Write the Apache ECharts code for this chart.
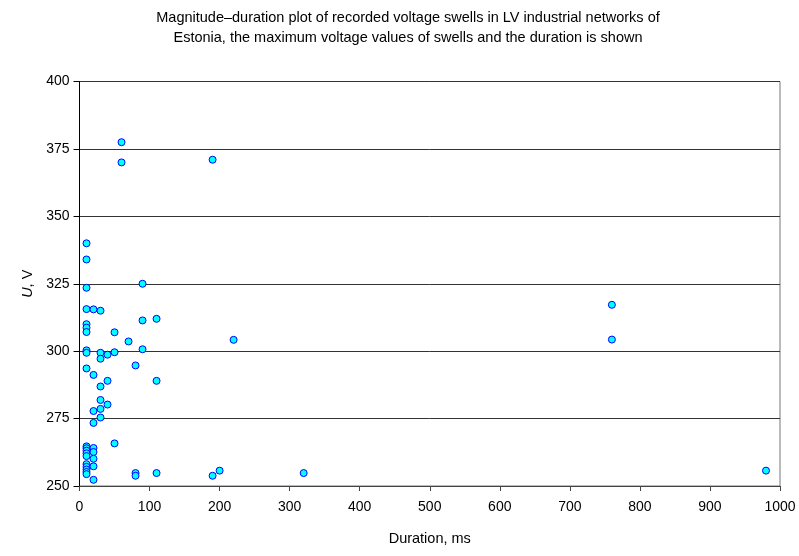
<!DOCTYPE html>
<html>
<head>
<meta charset="utf-8">
<script src="https://cdn.jsdelivr.net/npm/echarts@6/dist/echarts.min.js"></script>
<style>
  html, body { margin: 0; padding: 0; background: #fff; }
  #chart { width: 799px; height: 556px; }
</style>
</head>
<body>
<div id="chart"></div>
<script>
// swell duration (ms) and max voltage (V)
const durations = [
  10, 10, 10, 10, 10, 10, 10, 10, 10, 10, 10, 10, 10, 10, 10, 10, 10, 10, 10, 10,
  20, 20, 20, 20, 20, 20, 20, 20, 20,
  30, 30, 30, 30, 30, 30, 30,
  40, 40, 40,
  50, 50, 50,
  60, 60,
  70,
  80, 80, 80,
  90, 90, 90,
  110, 110, 110,
  190, 190,
  200,
  220,
  320,
  760, 760,
  980
]
const voltages = [
  340, 334, 323.5, 315.6, 310, 308.7, 307.1, 300.3, 299.4, 293.6, 264.7, 264, 263.1, 262.1, 261.1, 258.1, 257.1, 256.1, 255.2, 254.4,
  315.5, 291.2, 277.8, 273.4, 264.1, 262.6, 260.1, 257.3, 252.3,
  315, 299.4, 297.2, 286.9, 281.9, 278.6, 275.4,
  298.7, 289, 280.2,
  307, 299.6, 265.8,
  377.5, 370,
  303.6,
  294.7, 254.8, 253.8,
  325, 311.4, 300.7,
  312, 289, 254.8,
  371, 253.8,
  255.7,
  304.2,
  254.8,
  317.2, 304.3,
  255.7
]

const titleText = 'Magnitude\u2013duration plot of recorded voltage swells in LV industrial networks of\nEstonia, the maximum voltage values of swells and the duration is shown'

const chart = echarts.init(document.getElementById('chart'))
const font = 'Liberation Sans, Arial, sans-serif'

chart.setOption({
  animation: false,
  title: {
    text: titleText,
    left: 408,
    textAlign: 'center',
    top: 8,
    padding: 0,
    textStyle: { fontFamily: font, fontSize: 14.5, fontWeight: 'normal', color: '#000', lineHeight: 20 },
  },
  grid: { left: 79.5, right: 19, top: 81.5, bottom: 70, show: true, borderColor: '#777', borderWidth: 1 },
  xAxis: {
    type: 'value',
    min: 0,
    max: 1000,
    interval: 100,
    name: 'Duration, ms',
    nameLocation: 'middle',
    nameGap: 45,
    nameTextStyle: { fontFamily: font, fontSize: 14.5, color: '#000' },
    axisLine: { lineStyle: { color: '#444' } },
    axisTick: { show: true, length: 5, lineStyle: { color: '#444' } },
    axisLabel: { fontFamily: font, fontSize: 14, color: '#000', margin: 14, formatter: v => String(v) },
    splitLine: { show: false },
  },
  yAxis: {
    type: 'value',
    min: 250,
    max: 400,
    interval: 25,
    name: '{i|U}, V',
    nameLocation: 'middle',
    nameGap: 43,
    nameTextStyle: {
      fontFamily: font, fontSize: 14.5, color: '#000',
      rich: { i: { fontFamily: font, fontSize: 14.5, fontStyle: 'italic', color: '#000' } },
    },
    axisLine: { show: true, lineStyle: { color: '#000' } },
    axisTick: { show: true, length: 6, lineStyle: { color: '#000' } },
    axisLabel: { fontFamily: font, fontSize: 14, color: '#000', margin: 10 },
    splitLine: { show: true, lineStyle: { color: '#333', width: 1 } },
  },
  series: [
    {
      type: 'scatter',
      data: durations.map((d, i) => [d, voltages[i]]),
      symbol: 'circle',
      symbolSize: 7,
      itemStyle: { color: '#00FFFF', borderColor: '#0000FF', borderWidth: 1, opacity: 1 },
    },
  ],
})
</script>
</body>
</html>
